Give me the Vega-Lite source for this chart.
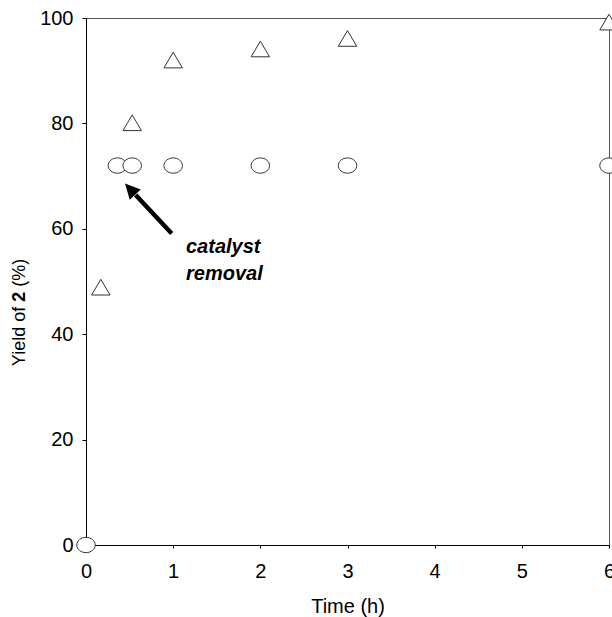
{
  "$schema": "https://vega.github.io/schema/vega-lite/v6.json",
  "width": 523,
  "height": 527,
  "autosize": {"type": "none"},
  "padding": {"left": 86, "top": 18, "right": 3, "bottom": 72},
  "config": {
    "font": "Liberation Sans",
    "view": {"stroke": "#555555", "strokeWidth": 1},
    "axis": {
      "grid": false,
      "domainColor": "#000000",
      "domainWidth": 1,
      "tickColor": "#000000",
      "labelColor": "#000000",
      "labelFont": "Liberation Sans",
      "labelFontSize": 20,
      "titleFont": "Liberation Sans",
      "titleFontWeight": "normal",
      "titleColor": "#000000"
    }
  },
  "encoding": {
    "x": {
      "field": "time",
      "type": "quantitative",
      "scale": {"domain": [0, 6], "nice": false, "zero": false},
      "axis": {
        "title": "Time (h)",
        "values": [0, 1, 2, 3, 4, 5, 6],
        "tickSize": 3,
        "labelPadding": 13,
        "titleFontSize": 20,
        "titleBaseline": "top",
        "titleY": 51,
        "labelFlush": false,
        "labelOverlap": false
      }
    },
    "y": {
      "field": "yield",
      "type": "quantitative",
      "scale": {"domain": [0, 100], "nice": false},
      "axis": {
        "title": null,
        "values": [0, 20, 40, 60, 80, 100],
        "tickSize": 4,
        "labelPadding": 9,
        "labelFlush": false,
        "labelOverlap": false
      }
    }
  },
  "layer": [
    {
      "data": {"values": [{"time": 0.983, "yield": 59.1, "time2": 0.57, "yield2": 66.4}]},
      "mark": {"type": "rule", "color": "#000000", "strokeWidth": 4.5, "strokeCap": "butt"},
      "encoding": {
        "x2": {"field": "time2"},
        "y2": {"field": "yield2"}
      }
    },
    {
      "data": {"values": [{"time": 0.565, "yield": 66.5}]},
      "mark": {
        "type": "point",
        "shape": "M0,-1L0.5,0L-0.5,0Z",
        "size": 900,
        "angle": 317,
        "filled": true,
        "color": "#000000",
        "opacity": 1
      }
    },
    {
      "data": {
        "values": [
          {"time": 0, "yield": 0, "series": "circle"},
          {"time": 0.36, "yield": 72, "series": "circle"},
          {"time": 0.53, "yield": 72, "series": "circle"},
          {"time": 1, "yield": 72, "series": "circle"},
          {"time": 2, "yield": 72, "series": "circle"},
          {"time": 3, "yield": 72, "series": "circle"},
          {"time": 6, "yield": 72, "series": "circle"},
          {"time": 0.17, "yield": 48.8, "series": "triangle"},
          {"time": 0.53, "yield": 80, "series": "triangle"},
          {"time": 1, "yield": 91.9, "series": "triangle"},
          {"time": 2, "yield": 94, "series": "triangle"},
          {"time": 3, "yield": 96, "series": "triangle"},
          {"time": 6, "yield": 99.1, "series": "triangle"}
        ]
      },
      "mark": {
        "type": "point",
        "filled": false,
        "fill": "#ffffff",
        "fillOpacity": 1,
        "stroke": "#333333",
        "strokeWidth": 1,
        "opacity": 1,
        "size": 340
      },
      "encoding": {
        "shape": {
          "field": "series",
          "type": "nominal",
          "scale": {
            "domain": ["circle", "triangle"],
            "range": ["M-1,0A1,0.83 0 1,1 1,0A1,0.83 0 1,1 -1,0Z", "M0,-0.92L1,0.78L-1,0.78Z"]
          },
          "legend": null
        }
      }
    },
    {
      "data": {
        "values": [
          {"time": 1.147, "yield": 55.4, "label": "catalyst"},
          {"time": 1.147, "yield": 50.3, "label": "removal"}
        ]
      },
      "mark": {
        "type": "text",
        "align": "left",
        "baseline": "alphabetic",
        "font": "Liberation Sans",
        "fontSize": 20,
        "fontWeight": "bold",
        "fontStyle": "italic",
        "color": "#000000"
      },
      "encoding": {"text": {"field": "label"}}
    },
    {
      "data": {"values": [{"time": -0.757, "yield": 45.2, "label": "Yield of"}]},
      "mark": {
        "type": "text",
        "align": "right",
        "baseline": "middle",
        "angle": 270,
        "font": "Liberation Sans",
        "fontSize": 18,
        "color": "#000000"
      },
      "encoding": {"text": {"field": "label"}}
    },
    {
      "data": {"values": [{"time": -0.757, "yield": 47.1, "label": "2"}]},
      "mark": {
        "type": "text",
        "align": "center",
        "baseline": "middle",
        "angle": 270,
        "font": "Liberation Sans",
        "fontSize": 18,
        "fontWeight": "bold",
        "color": "#000000"
      },
      "encoding": {"text": {"field": "label"}}
    },
    {
      "data": {"values": [{"time": -0.757, "yield": 49.0, "label": "(%)"}]},
      "mark": {
        "type": "text",
        "align": "left",
        "baseline": "middle",
        "angle": 270,
        "font": "Liberation Sans",
        "fontSize": 18,
        "color": "#000000"
      },
      "encoding": {"text": {"field": "label"}}
    }
  ]
}
